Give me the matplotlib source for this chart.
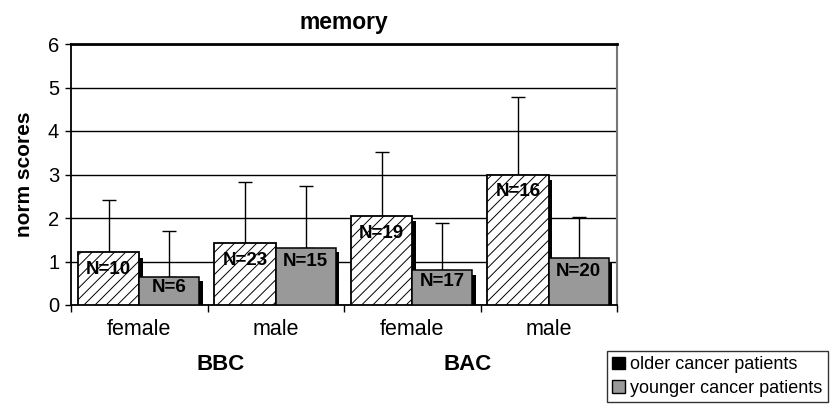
import numpy as np
import matplotlib
matplotlib.use("Agg")
import matplotlib.pyplot as plt
from matplotlib.patches import Patch
import matplotlib.transforms as mtransforms

plt.rcParams['font.family'] = ['Liberation Sans', 'DejaVu Sans']
plt.rcParams['hatch.linewidth'] = 0.7
plt.rcParams['hatch.color'] = '#333333'

categories = ["female", "male", "female", "male"]
groups = ["BBC", "BAC"]
older_means = [1.21, 1.43, 2.05, 3.00]
older_sd = [1.20, 1.40, 1.47, 1.79]
younger_means = [0.65, 1.32, 0.80, 1.09]
younger_sd = [1.04, 1.41, 1.08, 0.93]
older_n = ["N=10", "N=23", "N=19", "N=16"]
younger_n = ["N=6", "N=15", "N=17", "N=20"]
series_labels = ["older cancer patients", "younger cancer patients"]

W, H = 831, 404
fig = plt.figure(figsize=(W / 100, H / 100), dpi=100)
ax = fig.add_axes([71 / W, 1 - 305 / H, (617 - 71) / W, 261 / H])

x = np.arange(len(categories))
wo, wy = 0.45, 0.44
sh = 0.024
gray = '#999999'

# shadows
ax.bar(x - wo + sh, np.array(older_means) - 0.13, width=wo, align='edge',
       color='black', zorder=2)
ax.bar(x + sh, np.array(younger_means) - 0.1, width=wy, align='edge',
       color='black', zorder=2)
# bars
ax.bar(x - wo, older_means, width=wo, align='edge', facecolor='white',
       edgecolor='black', linewidth=1.3, hatch='///', zorder=3)
ax.bar(x, younger_means, width=wy, align='edge', facecolor=gray,
       edgecolor='black', linewidth=1.1, zorder=3)
# error bars (upper only)
zeros = np.zeros(len(x))
ax.errorbar(x - wo / 2, older_means, yerr=[zeros, older_sd], fmt='none',
            ecolor='black', elinewidth=1, capsize=4.7, capthick=1, zorder=2.5)
ax.errorbar(x + wy / 2, younger_means, yerr=[zeros, younger_sd], fmt='none',
            ecolor='black', elinewidth=1, capsize=4.7, capthick=1, zorder=2.5)

# N labels
for xi, v, t in zip(x - wo / 2, older_means, older_n):
    ax.annotate(t, (xi, v), xytext=(0, -12.5), textcoords='offset points',
                ha='center', va='center', fontsize=13.5, fontweight='bold', zorder=5)
for xi, v, t in zip(x + wy / 2, younger_means, younger_n):
    ax.annotate(t, (xi, v), xytext=(0, -8 if v < 1 else -10), textcoords='offset points',
                ha='center', va='center', fontsize=13.5, fontweight='bold', zorder=5)

ax.set_xlim(-0.5, 3.5)
ax.set_ylim(0, 6)
ax.set_yticks(range(0, 7))
ax.tick_params(axis='y', labelsize=14.5, length=4.5, width=1, direction='out', pad=4)
ax.set_xticks(x)
ax.set_xticklabels(categories)
ax.tick_params(axis='x', which='major', length=0, labelsize=15.5, pad=10)
ax.set_xticks(np.arange(-0.5, 4, 1), minor=True)
ax.tick_params(axis='x', which='minor', length=5, width=1, direction='out')

ax.yaxis.grid(True, color='black', linewidth=1)
ax.set_axisbelow(True)

for s in ['left', 'bottom']:
    ax.spines[s].set_color('black')
    ax.spines[s].set_linewidth(1.3)
ax.spines['top'].set_linewidth(2)
ax.spines['top'].set_color('black')
ax.spines['right'].set_color('#777777')
ax.spines['right'].set_linewidth(1.5)

ax.set_title("memory", fontsize=16.5, fontweight='bold', pad=11)
ax.set_ylabel("norm scores", fontsize=15, fontweight='bold', labelpad=10)

trans = mtransforms.blended_transform_factory(ax.transData, ax.transAxes)
for gx, g in zip([0.595, 2.405], groups):
    ax.text(gx, -0.228, g, transform=trans, ha='center', va='center',
            fontsize=16, fontweight='bold')

handles = [Patch(facecolor='black', edgecolor='black'),
           Patch(facecolor=gray, edgecolor='black')]
leg = fig.legend(handles, series_labels, loc='lower right',
                 bbox_to_anchor=(828 / W, 2 / H), fontsize=13,
                 frameon=True, fancybox=False, edgecolor='black',
                 handlelength=0.7, handleheight=0.7, handletextpad=0.3,
                 labelspacing=0.35, borderpad=0.3, borderaxespad=0)
leg.get_frame().set_linewidth(1)

fig.savefig("out.png", dpi=100)
